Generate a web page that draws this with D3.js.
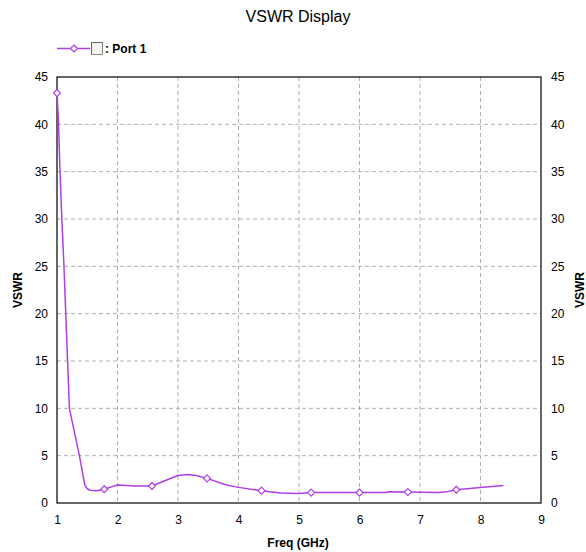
<!DOCTYPE html>
<html><head><meta charset="utf-8">
<script src="https://cdn.jsdelivr.net/npm/d3@7"></script>
<style>body{margin:0;background:#fff;}svg{display:block;font-family:"Liberation Sans",Arial,sans-serif;}</style>
</head><body>
<svg id="c" width="586" height="552"></svg>
<script>
const freq = [1.0,1.02,1.05,1.08,1.115,1.145,1.175,1.205,1.37,1.46,1.5,1.55,1.65,1.78,1.9,2.0,2.3,2.57,2.8,3.0,3.15,3.3,3.48,3.8,4.0,4.38,4.7,5.0,5.2,5.6,6.0,6.45,6.47,6.8,7.3,7.45,7.6,8.0,8.38];
const vswr = [43.3,41,35,30,25,20,15,10,5,1.9,1.5,1.35,1.3,1.45,1.7,1.9,1.8,1.8,2.4,2.9,3.0,2.9,2.6,1.9,1.65,1.3,1.05,1.0,1.1,1.1,1.1,1.1,1.2,1.15,1.1,1.2,1.4,1.65,1.85];
const markerFreq = [1.0,1.78,2.57,3.48,4.38,5.2,6.0,6.8,7.6];
const xTicks = [1,2,3,4,5,6,7,8,9];
const yTicks = [0,5,10,15,20,25,30,35,40,45];

const svg = d3.select("#c");
const L=57,R=541,T=77,B=503;
const x = d3.scaleLinear().domain([1,9]).range([L,R]);
const y = d3.scaleLinear().domain([0,45]).range([B,T]);
const col = "#b03ee6";

svg.append("text").attr("x",298).attr("y",22).attr("text-anchor","middle").attr("font-size",16).text("VSWR Display");

// grid
const g = svg.append("g");
g.selectAll(".vg").data(xTicks.slice(1,-1)).join("line").attr("x1",d=>x(d)).attr("x2",d=>x(d)).attr("y1",T).attr("y2",B)
  .attr("stroke","#b0b0b0").attr("stroke-dasharray","4,3");
g.selectAll(".hg").data(yTicks.slice(1,-1)).join("line").attr("y1",d=>y(d)).attr("y2",d=>y(d)).attr("x1",L).attr("x2",R)
  .attr("stroke","#b0b0b0").attr("stroke-dasharray","4,3");

// axes
const style = s=>{s.select(".domain").remove();s.selectAll("text").attr("font-size",12).attr("font-family","Liberation Sans, Arial").attr("fill","#000");};
svg.append("g").attr("transform",`translate(0,${B})`).call(d3.axisBottom(x).tickValues(xTicks).tickSize(0).tickPadding(12).tickFormat(d3.format("d"))).call(style);
svg.append("g").attr("transform",`translate(${L},0)`).call(d3.axisLeft(y).tickValues(yTicks).tickSize(0).tickPadding(9)).call(style);
svg.append("g").attr("transform",`translate(${R},0)`).call(d3.axisRight(y).tickValues(yTicks).tickSize(0).tickPadding(10)).call(style);

svg.append("rect").attr("x",L).attr("y",T).attr("width",R-L).attr("height",B-T).attr("fill","none").attr("stroke","#000").attr("stroke-width",1.2);

svg.append("text").attr("x",298).attr("y",547).attr("text-anchor","middle").attr("font-size",12).attr("font-weight","bold").text("Freq (GHz)");
svg.append("text").attr("transform","translate(22,290) rotate(-90)").attr("text-anchor","middle").attr("font-size",12).attr("font-weight","bold").text("VSWR");
svg.append("text").attr("transform","translate(584,290) rotate(-90)").attr("text-anchor","middle").attr("font-size",12).attr("font-weight","bold").text("VSWR");

// line
const data = freq.map((f,i)=>[f,vswr[i]]);
const line = d3.line().x(d=>x(d[0])).y(d=>y(d[1])).curve(d3.curveLinear);
svg.append("path").datum(data).attr("d",line).attr("fill","none").attr("stroke",col).attr("stroke-width",1.5).attr("stroke-linejoin","round");
const interp = f=>{for(let i=0;i<freq.length-1;i++){if(f>=freq[i]&&f<=freq[i+1]){const t=(f-freq[i])/(freq[i+1]-freq[i]);return vswr[i]+t*(vswr[i+1]-vswr[i]);}}return vswr[vswr.length-1];};
svg.selectAll(".mk").data(markerFreq).join("path").attr("transform",d=>`translate(${x(d)},${y(interp(d))})`)
  .attr("d","M0,-3.5L3.5,0L0,3.5L-3.5,0Z").attr("fill","#fff").attr("stroke",col).attr("stroke-width",1.2);

// legend
svg.append("line").attr("x1",57).attr("x2",90).attr("y1",48.5).attr("y2",48.5).attr("stroke",col).attr("stroke-width",1.5);
svg.append("path").attr("transform","translate(74,48.5)").attr("d","M0,-3.5L3.5,0L0,3.5L-3.5,0Z").attr("fill","#fff").attr("stroke",col).attr("stroke-width",1.2);
svg.append("rect").attr("x",91.5).attr("y",42.5).attr("width",11).attr("height",12).attr("fill","#f4f4f0").attr("stroke","#888");
svg.append("path").attr("d","M91.5,54.5V42.5H102.5").attr("fill","none").attr("stroke","#666");
svg.append("text").attr("x",105).attr("y",53).attr("font-size",12).attr("font-weight","bold").text(": Port 1");
</script>
</body></html>
